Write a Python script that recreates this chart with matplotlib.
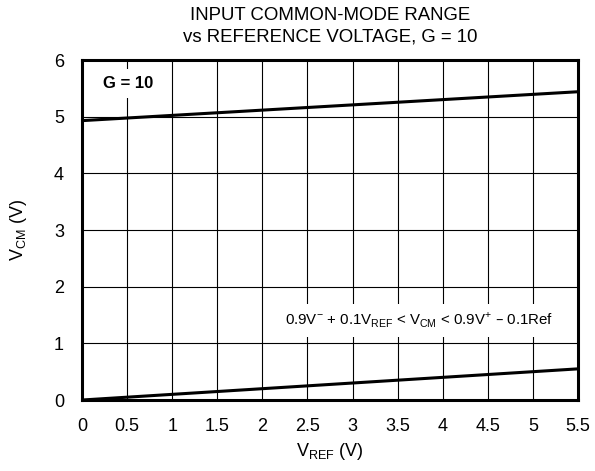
import matplotlib
matplotlib.use('Agg')
import matplotlib.pyplot as plt

plt.rcParams['font.family'] = ['Liberation Sans', 'DejaVu Sans']

# data
vref = [0, 5.5]
vcm_upper = [4.93, 5.44]
vcm_lower = [0.0, 0.55]
xticks = [0, 0.5, 1, 1.5, 2, 2.5, 3, 3.5, 4, 4.5, 5, 5.5]
xticklabels = ['0', '0.5', '1', '1.5', '2', '2.5', '3', '3.5', '4', '4.5', '5', '5.5']
yticks = [0, 1, 2, 3, 4, 5, 6]

fig = plt.figure(figsize=(5.95, 4.71), dpi=100)
ax = fig.add_axes([0.1378, 0.1507, 0.8336, 0.7219])

ax.plot(vref, vcm_upper, color='black', lw=2.2, zorder=3)
ax.plot(vref, vcm_lower, color='black', lw=2.2, zorder=3)

ax.set_xlim(0, 5.5)
ax.set_ylim(0, 6)
ax.set_xticks(xticks)
ax.set_xticklabels(xticklabels)
ax.set_yticks(yticks)
ax.grid(True, color='black', lw=0.8)
ax.tick_params(length=0, labelsize=13)
ax.tick_params(axis='x', pad=13)
ax.tick_params(axis='y', pad=13)
for s in ax.spines.values():
    s.set_linewidth(2.2)

ax.set_xlabel('V$_{\\mathregular{REF}}$ (V)', fontsize=13, labelpad=4)
ax.set_ylabel('V$_{\\mathregular{CM}}$ (V)', fontsize=13, labelpad=18)
ax.set_title('INPUT COMMON-MODE RANGE\nvs REFERENCE VOLTAGE, G = 10', fontsize=13.4, pad=13,
             linespacing=1.35)

ax.text(0.51, 5.58, 'G = 10', fontsize=12, fontweight='bold', zorder=4,
        ha='center', va='center',
        bbox=dict(facecolor='white', edgecolor='none', pad=5))
ax.text(3.74, 1.41, '0.9V$^{\\mathregular{-}}$ + 0.1V$_{\\mathregular{REF}}$ < V$_{\\mathregular{CM}}$ < 0.9V$^{\\mathregular{+}}$ \u2013 0.1Ref',
        fontsize=10.8, ha='center', va='center', zorder=4,
        bbox=dict(facecolor='white', edgecolor='none', pad=5))

fig.savefig('out.png', dpi=100)
